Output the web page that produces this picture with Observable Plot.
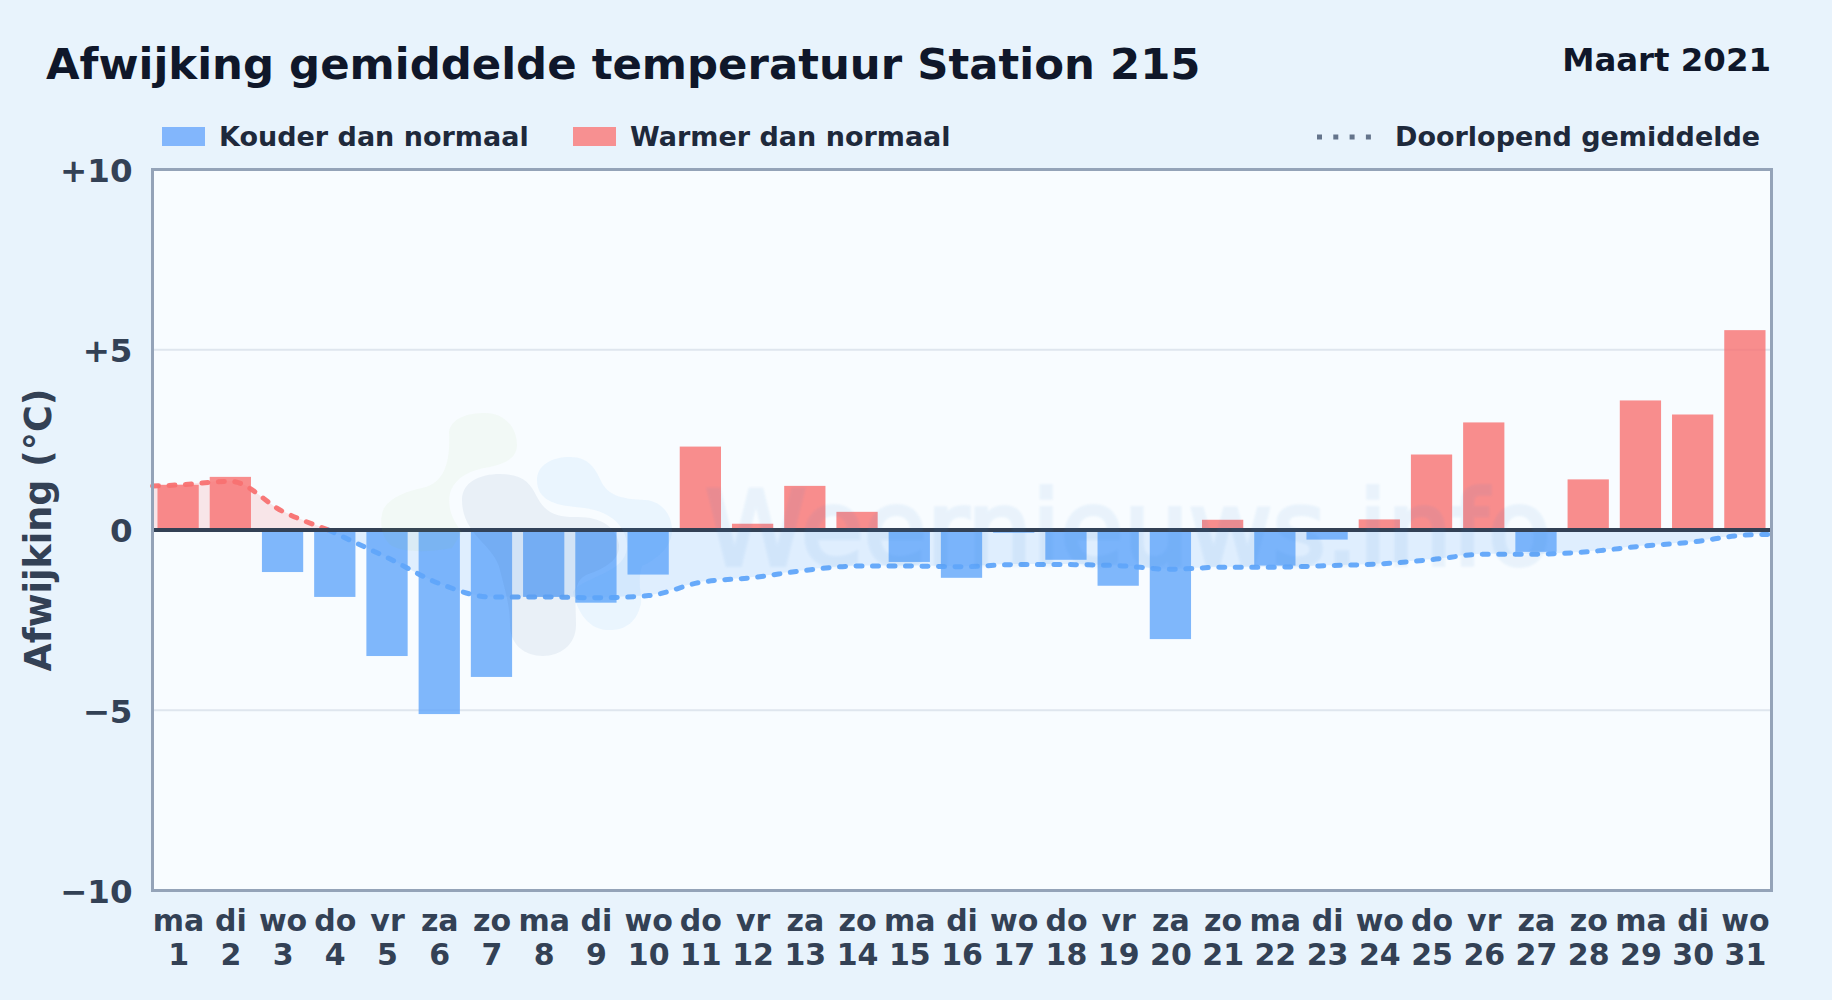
<!DOCTYPE html>
<html lang="nl">
<head>
<meta charset="utf-8">
<script src="https://cdn.jsdelivr.net/npm/d3@7"></script>
<script src="https://cdn.jsdelivr.net/npm/@observablehq/plot@0.6"></script>
<style>
  html, body { margin: 0; padding: 0; background: #e8f3fc; width: 1832px; height: 1000px; overflow: hidden; }
  body { position: relative; font-family: "DejaVu Sans", sans-serif; font-weight: 700; }
  #header { position: relative; width: 1832px; height: 160px; }
  #header div { position: absolute; white-space: nowrap; }
  .title { left: 46px; top: 36px; font-size: 43.4px; line-height: 56px; color: #0f172a; }
  .period { right: 61px; top: 40px; font-size: 32.4px; line-height: 40px; color: #0f172a; }
  .leg { top: 120px; font-size: 27px; line-height: 34px; color: #1e293b; }
  .swatch { top: 127px; width: 43px; height: 19px; }
  #chart { position: absolute; left: 0; top: 160px; }
  #chart svg { display: block; background: transparent; }
  #watermark { position: absolute; left: 0; top: 0; pointer-events: none; }
</style>
</head>
<body>
<div id="header">
  <div class="title">Afwijking gemiddelde temperatuur Station 215</div>
  <div class="period">Maart 2021</div>
  <div class="swatch" style="left:162px;background:#82b6fc"></div>
  <div class="leg" style="left:219px">Kouder dan normaal</div>
  <div class="swatch" style="left:573px;background:#f79091"></div>
  <div class="leg" style="left:630px">Warmer dan normaal</div>
  <svg style="position:absolute;left:1317px;top:130px" width="60" height="14"><line x1="0" x2="56" y1="7" y2="7" stroke="#64748b" stroke-width="5" stroke-dasharray="5,11.3"/></svg>
  <div class="leg" style="left:1395px">Doorlopend gemiddelde</div>
</div>
<div id="chart"></div>
<svg id="watermark" width="1832" height="1000" font-family="DejaVu Sans">
  <defs><filter id="soft"><feGaussianBlur stdDeviation="1"/></filter></defs>
  <path fill="#8bc34a" fill-opacity="0.05" d="M449 432C451 418 468 413 485 413C505 413 517 428 517 445C517 458 505 464 490 467C470 470 458 476 451 490C446 505 452 520 462 532L452 548C432 552 405 553 392 546C380 538 379 518 384 508C392 496 408 491 422 488C440 484 451 470 449 432Z"/>
  <path fill="#2f5c8f" fill-opacity="0.07" d="M462 500C462 482 480 474 500 474C522 474 530 482 537 497C545 512 555 517 575 517C600 516 617 527 619 545C620 562 600 570 586 575C572 582 576 600 576 625C576 645 560 656 543 656C525 656 510 645 510 625C510 605 505 590 500 570C495 545 462 535 462 500Z"/>
  <path fill="#3b9cf0" fill-opacity="0.07" d="M537 480C537 465 552 457 570 457C590 457 596 470 602 483C610 497 625 499 645 500C662 501 672 515 672 530C672 548 655 560 642 566C636 585 644 598 640 607C635 626 620 631 607 630C590 629 578 615 573 592C578 582 600 578 616 566C630 556 630 540 620 526C610 512 590 508 575 507C555 505 537 500 537 480Z"/>
  <g opacity="0.07" filter="url(#soft)"><text x="1128" y="565" text-anchor="middle" font-weight="400" font-size="102.5" fill="#2f7fd0" stroke="#2f7fd0" stroke-width="4">Weernieuws.info</text></g>
</svg>
<script>
const days = d3.range(1, 32);
const weekdays = ["ma","di","wo","do","vr","za","zo","ma","di","wo","do","vr","za","zo","ma","di","wo","do","vr","za","zo","ma","di","wo","do","vr","za","zo","ma","di","wo"];
const deviation = [1.24,1.46,-1.18,-1.87,-3.51,-5.12,-4.09,-1.87,-2.03,-1.25,2.30,0.16,1.21,0.49,-0.90,-1.34,-0.09,-0.84,-1.56,-3.04,0.27,-1.00,-0.28,0.28,2.08,2.97,-0.62,1.39,3.58,3.19,5.53];
const meanDays = [0.5,1,2,3,3.87,4,5,6,7,8,9,10,11,12,13,14,15,16,17,18,19,20,21,22,23,24,25,26,27,28,29,30,31,31.5];
const meanValues = [1.22,1.25,1.35,0.51,0,-0.09,-0.77,-1.49,-1.86,-1.86,-1.88,-1.82,-1.45,-1.32,-1.12,-1.00,-1.00,-1.02,-0.96,-0.96,-0.99,-1.09,-1.03,-1.03,-0.99,-0.94,-0.82,-0.67,-0.67,-0.60,-0.45,-0.33,-0.14,-0.12];
const yTicks = [-10,-5,0,5,10];
const yLabels = ["\u221210","\u22125","0","+5","+10"];
const gridTicks = [-5,5];
const crossing = 3.87;
const colors = {cold:"#60a5fa", warm:"#f87171"};

const bars = days.map((d,i)=>({day:d, value:deviation[i]}));
const mean = meanDays.map((d,i)=>({day:d, value:meanValues[i]}));
const warmMean = mean.filter(d=>d.day<=crossing);
const coldMean = mean.filter(d=>d.day>=crossing);

const chart = Plot.plot({
  width: 1832, height: 840,
  marginTop: 9, marginBottom: 110, marginLeft: 152, marginRight: 61,
  style: {background:"transparent", fontFamily:'"DejaVu Sans", sans-serif', overflow:"visible"},
  x: {type:"linear", domain:[0.5,31.5]},
  y: {domain:[-10,10]},
  marks: [
    Plot.frame({fill:"#f8fcff", stroke:"none"}),
    Plot.ruleY(gridTicks, {stroke:"#dfe6ee", strokeWidth:2}),
    Plot.areaY(warmMean, {x:"day", y1:0, y2:"value", curve:"monotone-x", fill:colors.warm, fillOpacity:0.16}),
    Plot.areaY(coldMean, {x:"day", y1:0, y2:"value", curve:"monotone-x", fill:colors.cold, fillOpacity:0.16}),
    Plot.rectY(bars, {x1:d=>d.day-0.395, x2:d=>d.day+0.395, y1:0, y2:"value", fill:d=>d.value<0?colors.cold:colors.warm, fillOpacity:0.8}),
    Plot.line(warmMean, {x:"day", y:"value", curve:"monotone-x", stroke:colors.warm, strokeOpacity:0.95, strokeWidth:5, strokeDasharray:"6,10.5", strokeLinecap:"round"}),
    Plot.line(coldMean, {x:"day", y:"value", curve:"monotone-x", stroke:colors.cold, strokeOpacity:0.95, strokeWidth:5, strokeDasharray:"6,10.5", strokeLinecap:"round"}),
    Plot.ruleY([0], {stroke:"#334155", strokeWidth:4}),
    Plot.frame({stroke:"#94a3b8", strokeWidth:3}),
    Plot.axisX({ticks:days, tickFormat:d=>`${weekdays[d-1]}\n${d}`, tickSize:0, tickPadding:16, lineHeight:1.15, fontSize:30, fontWeight:700, color:"#334155", label:null}),
    Plot.axisY({ticks:yTicks, tickFormat:d=>yLabels[yTicks.indexOf(d)], tickSize:0, tickPadding:20, dy:2, fontSize:32.5, fontWeight:700, color:"#334155", label:null}),
    Plot.text(["Afwijking (\u00b0C)"], {frameAnchor:"left", textAnchor:"middle", rotate:-90, dx:-113, fontSize:36.5, fontWeight:700, fill:"#334155"})
  ]
});
document.getElementById("chart").append(chart);
</script>
</body>
</html>
